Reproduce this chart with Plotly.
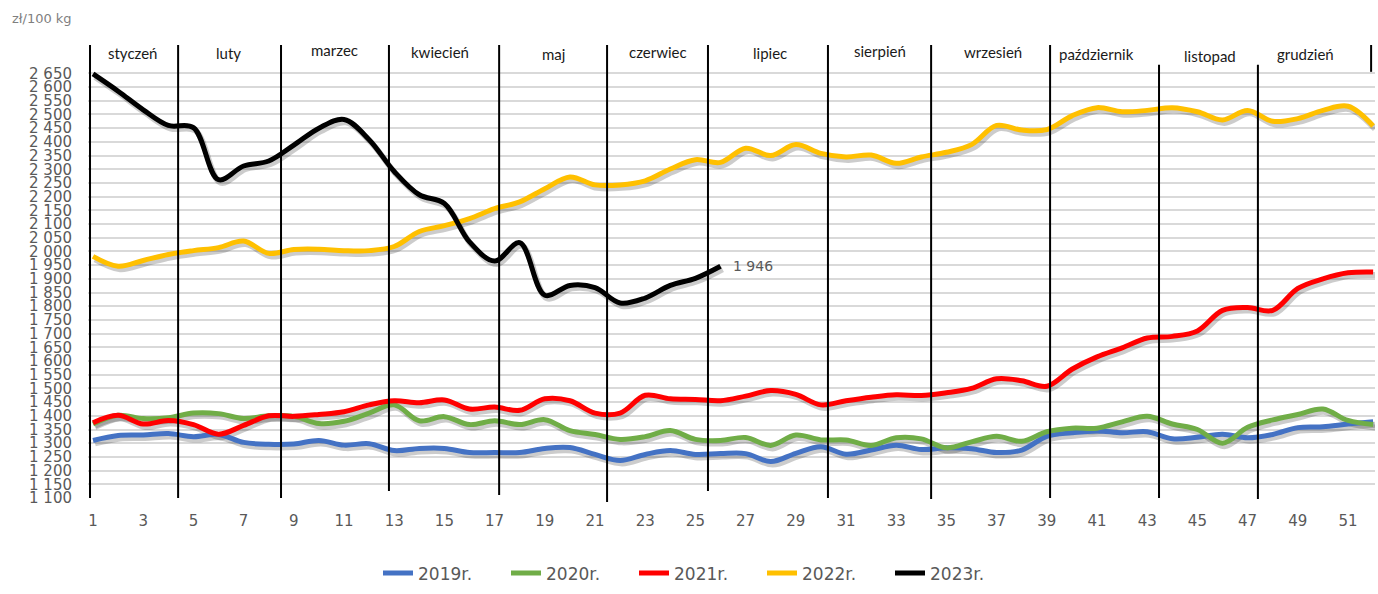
import plotly.graph_objects as go

# ---------------- data ----------------
weeks = list(range(1, 53))
weeks_2023 = list(range(1, 27))

y2019 = [1310, 1328, 1330, 1335, 1324, 1332, 1303, 1296, 1297, 1310, 1293, 1298, 1273,
         1281, 1281, 1266, 1266, 1266, 1281, 1284, 1259, 1237, 1259, 1273, 1259, 1262,
         1262, 1233, 1263, 1287, 1260, 1275, 1293, 1277, 1283, 1280, 1266, 1275, 1325,
         1338, 1345, 1338, 1342, 1316, 1322, 1333, 1320, 1332, 1357, 1360, 1370, 1378]
y2020 = [1370, 1402, 1390, 1393, 1410, 1408, 1390, 1400, 1398, 1372, 1380, 1410, 1440,
         1382, 1397, 1368, 1382, 1368, 1386, 1346, 1332, 1314, 1324, 1346, 1314, 1310,
         1321, 1292, 1330, 1312, 1312, 1292, 1320, 1316, 1283, 1305, 1325, 1307, 1342,
         1355, 1355, 1378, 1398, 1370, 1350, 1300, 1358, 1385, 1405, 1425, 1383, 1368]
y2021 = [1375, 1402, 1370, 1383, 1368, 1333, 1365, 1400, 1398, 1405, 1415, 1440, 1455,
         1448, 1458, 1425, 1432, 1420, 1462, 1455, 1410, 1410, 1475, 1462, 1460, 1455,
         1472, 1492, 1478, 1440, 1455, 1468, 1477, 1474, 1484, 1500, 1535, 1528, 1508,
         1570, 1615, 1648, 1684, 1690, 1710, 1785, 1795, 1785, 1865, 1900, 1922, 1925]
y2022 = [1982, 1946, 1967, 1989, 2003, 2014, 2038, 1993, 2007, 2008, 2003, 2003, 2018,
         2073, 2094, 2120, 2156, 2181, 2229, 2272, 2243, 2243, 2258, 2301, 2335, 2325,
         2377, 2350, 2390, 2358, 2345, 2352, 2322, 2345, 2362, 2390, 2460, 2443, 2445,
         2495, 2525, 2510, 2515, 2525, 2510, 2480, 2515, 2475, 2485, 2515, 2530, 2458]
y2023 = [2648, 2585, 2517, 2460, 2452, 2262, 2312, 2330, 2388, 2450, 2482, 2408, 2292,
         2207, 2175, 2035, 1965, 2032, 1840, 1876, 1868, 1812, 1830, 1876, 1902, 1946]

series_names = ["2019r.", "2020r.", "2021r.", "2022r.", "2023r."]
series_x = [weeks, weeks, weeks, weeks, weeks_2023]
series_y = [y2019, y2020, y2021, y2022, y2023]
colors = ["#4472C4", "#70AD47", "#FF0000", "#FFC000", "#000000"]

months = ["styczeń", "luty", "marzec", "kwiecień", "maj", "czerwiec", "lipiec",
          "sierpień", "wrzesień", "październik", "listopad", "grudzień"]

y_ticks = list(range(1100, 2651, 50))
y_ticktext = [f"{v:,}".replace(",", " ") for v in y_ticks]
last_label = "1 946"

# ---------------- layout constants ----------------
L, R, T, B = 88, 3, 46, 93
W, H = 1378, 594
pw, ph = W - L - R, H - T - B
px_per_week = 25.1
x0 = 0.8
x1 = x0 + pw / px_per_week
y_lo, y_hi = 1100, 2750
u_per_px = (y_hi - y_lo) / ph


def py(ypx):
    """pixel row (from top of page) -> paper y"""
    return (H - B - ypx) / ph


fig = go.Figure()

# shadows (base axes, shifted a couple of pixels)
for xs, ys in zip(series_x, series_y):
    fig.add_trace(go.Scatter(x=xs, y=ys, mode="lines", xaxis="x", yaxis="y",
                             line=dict(color="rgba(0,0,0,0.2)", width=6, shape="spline", smoothing=1),
                             showlegend=False, hoverinfo="skip"))

# main lines
for name, xs, ys, c in zip(series_names, series_x, series_y, colors):
    fig.add_trace(go.Scatter(x=xs, y=ys, mode="lines", name=name, xaxis="x2", yaxis="y2",
                             line=dict(color=c, width=5, shape="spline", smoothing=1)))

# month separators (week position, top, bottom in paper coords)
sep_x = [0.88, 4.39, 8.49, 12.79, 17.18, 21.48, 25.5, 30.28, 34.39, 39.13, 43.47, 47.41]
sep_top = [py(45)] * 10 + [py(65), py(65)]
sep_bot = [py(501), py(501), py(501), py(494), py(498), py(505), py(494), py(501),
           py(502), py(501), py(501), py(502)]
shapes = []
for sx, st, sb in zip(sep_x, sep_top, sep_bot):
    shapes.append(dict(type="line", xref="x2", yref="paper", x0=sx, x1=sx, y0=sb, y1=st,
                       line=dict(color="black", width=2)))
shapes.append(dict(type="line", xref="x2", yref="paper", x0=51.92, x1=51.92, y0=py(72), y1=py(45),
                   line=dict(color="black", width=2)))

month_x = [2.59, 6.38, 10.64, 14.82, 19.33, 23.51, 27.97, 32.35, 36.86, 40.96, 45.5, 49.29]
month_ypx = [53, 53, 50, 52, 54, 52, 53, 51, 52, 54, 56, 54]
annotations = []
for m, mx, my in zip(months, month_x, month_ypx):
    annotations.append(dict(text=m, x=mx, y=py(my), xref="x2", yref="paper",
                            showarrow=False, font=dict(family="Lato", size=15, color="#1a1a1a"),
                            xanchor="center", yanchor="middle"))
annotations.append(dict(text=last_label, x=weeks_2023[-1] + 1.3, y=y2023[-1], xref="x2", yref="y2",
                        showarrow=False, font=dict(family="DejaVu Sans", size=14, color="#595959"),
                        xanchor="center", yanchor="middle"))
annotations.append(dict(text="zł/100 kg", x=(10 - L) / pw, y=py(18), xref="paper", yref="paper",
                        xanchor="left", yanchor="middle", showarrow=False,
                        font=dict(family="DejaVu Sans", size=13, color="#7f7f7f")))

fig.update_layout(
    width=W, height=H,
    margin=dict(l=L, r=R, t=T, b=B),
    paper_bgcolor="white", plot_bgcolor="white",
    xaxis=dict(range=[x0 - 2 / px_per_week, x1 - 2 / px_per_week], visible=False, domain=[0, 1]),
    yaxis=dict(range=[y_lo + 3 * u_per_px, y_hi + 3 * u_per_px], visible=False, domain=[0, 1]),
    xaxis2=dict(range=[x0, x1], overlaying="x", tickmode="linear", tick0=1, dtick=2,
                showgrid=False, zeroline=False, showline=False, ticks="",
                tickfont=dict(family="DejaVu Sans", size=15, color="#595959"),
                ticklabelstandoff=12),
    yaxis2=dict(range=[y_lo, y_hi], overlaying="y", tickmode="array", tickvals=y_ticks,
                ticktext=y_ticktext, showgrid=True, gridcolor="#d9d9d9", gridwidth=2,
                zeroline=False, showline=False, ticks="",
                tickfont=dict(family="DejaVu Sans", size=15, color="#595959"),
                ticklabelstandoff=15),
    shapes=shapes,
    annotations=annotations,
    legend=dict(orientation="h", x=(698 - L) / pw, xanchor="center",
                y=py(577), yanchor="middle",
                font=dict(family="DejaVu Sans", size=17, color="#595959"),
                entrywidth=83, entrywidthmode="pixels", bgcolor="rgba(0,0,0,0)"),
    showlegend=True,
)

fig.write_html("out.html", config={"displayModeBar": False},
               post_script="document.body.style.margin='0';")
